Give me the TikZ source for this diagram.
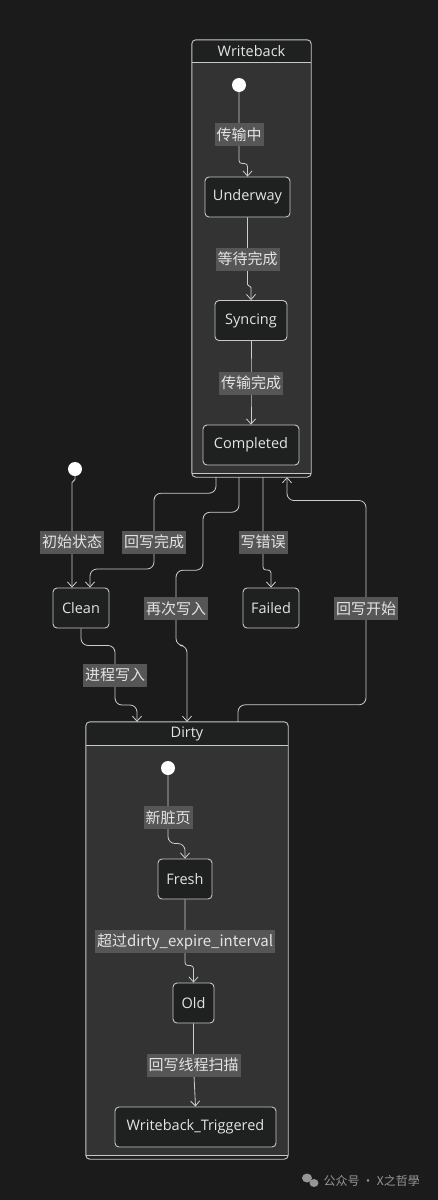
\documentclass[tikz,border=0pt]{standalone}
\usepackage{fontspec}
\setmainfont{Open Sans}
\newfontfamily\cjk{Noto Sans CJK SC}
\usetikzlibrary{arrows.meta, positioning}
\definecolor{DkBack}{RGB}{27,27,27}
\definecolor{DkNode}{RGB}{31,32,32}
\definecolor{DkInner}{RGB}{51,51,51}
\definecolor{DkLine}{RGB}{200,200,200}
\definecolor{DkEdge}{RGB}{205,205,205}
\definecolor{DkLabel}{RGB}{86,86,86}
\definecolor{DkText}{RGB}{228,228,228}
\definecolor{DkMark}{RGB}{150,150,150}
\pgfdeclarelayer{back}
\pgfdeclarelayer{wires}
\pgfsetlayers{back,wires,main}

\begin{document}
\begin{tikzpicture}[x=1pt, y=-1pt,
    state/.style={draw=DkLine, fill=DkNode, rounded corners=4pt,
                  line width=0.9pt, minimum height=40pt, inner sep=0pt,
                  font=\fontsize{14.5}{16}\selectfont, text=DkText},
    lbl/.style={fill=DkLabel, inner xsep=2pt, inner ysep=0pt,
                minimum height=23pt, text=DkText,
                font=\cjk\fontsize{15}{17}\selectfont},
    tr/.style={draw=DkEdge, line width=0.8pt, rounded corners=7pt,
               -{Straight Barb[length=5pt,width=9pt]}},
    jog/.style={rounded corners=3pt},
    init/.style={circle, fill=white, minimum size=14pt, inner sep=0pt},
    cbox/.style={fill=DkNode, rounded corners=4pt, inner sep=0pt},
    ctitle/.style={font=\fontsize{14.5}{16}\selectfont, text=DkText}
  ]
  \useasboundingbox (0,0) rectangle (438,1200);

  % composite states
  \begin{pgfonlayer}{back}
    \fill[DkBack] (0,0) rectangle (438,1200);
    \node[cbox, minimum width=119pt, minimum height=437pt] (wb) at (251.5,258.5) {};
    \fill[DkInner] ([yshift=-23pt]wb.north west) rectangle ([yshift=4pt]wb.south east);
    \draw[DkLine, line width=0.9pt, rounded corners=4pt]
          (wb.north west) rectangle (wb.south east);
    \draw[DkLine, line width=0.9pt]
          ([yshift=-23pt]wb.north west) -- ([yshift=-23pt]wb.north east);
    \draw[DkLine, line width=0.9pt]
          ([yshift=4pt]wb.south west) -- ([yshift=4pt]wb.south east);

    \node[cbox, minimum width=202pt, minimum height=437pt] (dt) at (187,940.5) {};
    \fill[DkInner] ([yshift=-24pt]dt.north west) rectangle ([yshift=4pt]dt.south east);
    \draw[DkLine, line width=0.9pt, rounded corners=4pt]
          (dt.north west) rectangle (dt.south east);
    \draw[DkLine, line width=0.9pt]
          ([yshift=-24pt]dt.north west) -- ([yshift=-24pt]dt.north east);
    \draw[DkLine, line width=0.9pt]
          ([yshift=4pt]dt.south west) -- ([yshift=4pt]dt.south east);
  \end{pgfonlayer}
  \node[ctitle] (wbt) at ([yshift=-11.5pt]wb.north) {Writeback};
  \node[ctitle] (dtt) at ([yshift=-12pt]dt.north) {Dirty};

  % states inside Writeback
  \node[init] (s1) at (239,85) {};
  \node[state, minimum width=85pt] (uw) at (247.5,197) {Underway};
  \node[state, minimum width=72pt] (sy) at (251,320.5) {Syncing};
  \node[state, minimum width=96pt] (cp) at (251,445) {Completed};

  % outer states
  \node[init] (s0) at (75,469) {};
  \node[state, minimum width=56pt] (cl) at (81,608) {Clean};
  \node[state, minimum width=56pt] (fl) at (271,608) {Failed};

  % states inside Dirty
  \node[init] (s2) at (168,768) {};
  \node[state, minimum width=54pt] (fr) at (185,879) {Fresh};
  \node[state, minimum width=41pt] (od) at (193.5,1003) {Old};
  \node[state, minimum width=161pt] (wt) at (195.5,1127) {Writeback\_Triggered};

  % labels
  \node[lbl] (l1) at (239,134.5) {传输中};
  \node[lbl] (l2) at (247.5,259) {等待完成};
  \node[lbl] (l3) at (251,383) {传输完成};
  \node[lbl] (l4) at (72,542) {初始状态};
  \node[lbl] (l5) at (154,542) {回写完成};
  \node[lbl] (l6) at (176,608.5) {再次写入};
  \node[lbl] (l7) at (263,542) {写错误};
  \node[lbl] (l8) at (366,608.5) {回写开始};
  \node[lbl] (l9) at (115,675) {进程写入};
  \node[lbl] (l10) at (168,817.5) {新脏页};
  \node[lbl] (l11) at (185,941.5) {超过dirty\_expire\_interval};
  \node[lbl] (l12) at (193.5,1065) {回写线程扫描};

  % transitions
  \begin{pgfonlayer}{wires}
    \draw[tr, jog] (s1) -- (l1.center) -- ++(0,29) -| (uw.north);
    \draw[tr, rounded corners=1.5pt] (uw.south) -- (l2.center) -- ++(0,27) -| (sy.north);
    \draw[tr] (sy.south) -- (l3.center) -- (cp.north);
    \draw[tr, rounded corners=1.5pt] (s0) -- ++(0,12) -| (l4.center) -- ([xshift=-9pt]cl.north);
    \draw[tr] ([xshift=-35.5pt]wb.south) -- ++(0,16) -| (l5.center)
              -- ++(0,27) -| ([xshift=9pt]cl.north);
    \draw[tr] ([xshift=-12.5pt]wb.south) -- ++(0,35) -| ++(-36,58)
              -| (l6.center) -- ++(0,37) -| (dt.north);
    \draw[tr, jog] ([xshift=11.5pt]wb.south) -- (l7.center) -- ++(0,28) -| (fl.north);
    \draw[tr] ([xshift=51pt]dt.north) -- ++(0,-17) -| (l8.center)
              -- ++(0,-108) -| ([xshift=35.5pt]wb.south);
    \draw[tr] (cl.south) -- ++(0,17) -| (l9.center) -- ++(0,30)
              -| ([xshift=-50pt]dt.north);
    \draw[tr] (s2) -- (l10.center) -- ++(0,26) -| (fr.north);
    \draw[tr, jog] (fr.south) -- (l11.center) -- ++(0,24) -| (od.north);
    \draw[tr] (od.south) -- (l12.center) -- (wt.north);
  \end{pgfonlayer}

  % watermark
  \fill[DkMark] (307,1178) ellipse (5pt and 4.5pt);
  \fill[DkMark] (314,1183) ellipse (4.5pt and 4pt);
  \node[font=\cjk\fontsize{12}{14}\selectfont, text=DkMark, anchor=west]
        (mk) at (320,1181) {公众号 · X之哲學};
\end{tikzpicture}
\end{document}
